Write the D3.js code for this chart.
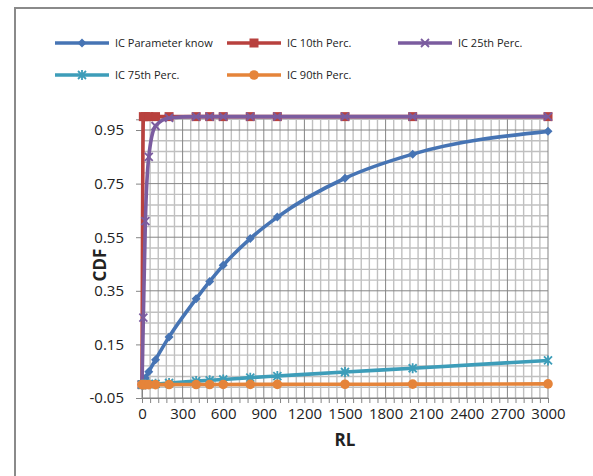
<!DOCTYPE html>
<html>
<head>
<meta charset="utf-8">
<script src="https://cdn.jsdelivr.net/npm/d3@7"></script>
<style>
  html, body { margin: 0; padding: 0; background: #fff; }
  svg { display: block; }
  text { font-family: "Open Sans", sans-serif; }
</style>
</head>
<body>
<div id="chart"></div>
<script>
// ---- data ----
const rl = [0, 10, 25, 50, 100, 200, 400, 500, 600, 800, 1000, 1500, 2000, 3000];
const icParamKnow = [0, 0.01, 0.025, 0.048, 0.093, 0.178, 0.32, 0.385, 0.445, 0.545, 0.625, 0.77, 0.86, 0.945];
const ic10th = [0, 1, 1, 1, 1, 1, 1, 1, 1, 1, 1, 1, 1, 1];
const ic25th = [0, 0.25, 0.61, 0.85, 0.965, 0.995, 1, 1, 1, 1, 1, 1, 1, 1];
const ic75th = [0, 0.0003, 0.001, 0.002, 0.003, 0.006, 0.013, 0.016, 0.019, 0.026, 0.032, 0.047, 0.061, 0.09];
const ic90th = [0, 0, 0, 0, 0, 0.0001, 0.0003, 0.0004, 0.0005, 0.0007, 0.0009, 0.0013, 0.0018, 0.0027];
const seriesNames = ["IC Parameter know", "IC 10th Perc.", "IC 25th Perc.", "IC 75th Perc.", "IC 90th Perc."];
const xTickLabels = [0, 300, 600, 900, 1200, 1500, 1800, 2100, 2400, 2700, 3000];
const yTickLabels = [-0.05, 0.15, 0.35, 0.55, 0.75, 0.95];
const xTitle = "RL", yTitle = "CDF";

// ---- styling ----
const colors = ["#4674b4", "#b8413e", "#7b5c9f", "#3d9db9", "#e5843a"];
const markers = ["diamond", "square", "x", "asterisk", "circle"];
const series = [icParamKnow, ic10th, ic25th, ic75th, ic90th].map((v, i) => ({
  name: seriesNames[i], color: colors[i], marker: markers[i],
  pts: rl.map((x, j) => ({ x, y: v[j] }))
}));

const W = 593, H = 476;
const svg = d3.select("#chart").append("svg").attr("width", W).attr("height", H);
svg.append("rect").attr("width", W).attr("height", H).attr("fill", "#fff");
svg.append("rect").attr("x", 15).attr("y", 8).attr("width", 620).attr("height", 520)
  .attr("fill", "none").attr("stroke", "#8a8a8a").attr("stroke-width", 2);

const x = d3.scaleLinear().domain([0, 3000]).range([142, 548]);
const y = d3.scaleLinear().domain([-0.05, 0.99]).range([398, 119.3]);

// grid
const g = svg.append("g");
const minorX = d3.range(0, 3001, 60).filter(v => v % 300 !== 0);
const minorY = d3.range(0, 27).map(i => -0.05 + i * 0.04).filter((v, i) => i % 5 !== 0);
g.selectAll(".mx").data(minorX).join("line")
  .attr("x1", d => x(d)).attr("x2", d => x(d)).attr("y1", y(0.99)).attr("y2", y(-0.05))
  .attr("stroke", "#c0c0c0").attr("stroke-width", 1.4);
g.selectAll(".my").data(minorY).join("line")
  .attr("x1", x(0)).attr("x2", x(3000)).attr("y1", d => y(d)).attr("y2", d => y(d))
  .attr("stroke", "#c0c0c0").attr("stroke-width", 1.4);
g.selectAll(".Mx").data(xTickLabels).join("line")
  .attr("x1", d => x(d)).attr("x2", d => x(d)).attr("y1", y(0.99)).attr("y2", y(-0.05))
  .attr("stroke", "#858585").attr("stroke-width", 1);
g.selectAll(".My").data(yTickLabels).join("line")
  .attr("x1", x(0)).attr("x2", x(3000)).attr("y1", d => y(d)).attr("y2", d => y(d))
  .attr("stroke", "#858585").attr("stroke-width", 1);

// axes
const xAxis = d3.axisBottom(x).tickValues(d3.range(0, 3001, 60)).tickSize(5).tickFormat("");
const xa = svg.append("g").attr("transform", `translate(0,${y(-0.05)})`).call(xAxis);
xa.select(".domain").attr("stroke", "#858585");
xa.selectAll(".tick line").attr("stroke", "#858585");
const xLab = d3.axisBottom(x).tickValues(xTickLabels).tickSize(0).tickPadding(10).tickFormat(d => d);
const xl = svg.append("g").attr("transform", `translate(0,${y(-0.05)})`).call(xLab);
xl.select(".domain").remove();
xl.selectAll("text").attr("font-family", "Open Sans").attr("font-size", 15).attr("fill", "#222");

const yAxis = d3.axisLeft(y).tickValues(yTickLabels).tickSize(6).tickPadding(12).tickFormat(d => d.toFixed(2));
const ya = svg.append("g").attr("transform", `translate(${x(0)},0)`).call(yAxis);
ya.select(".domain").attr("stroke", "#858585");
ya.selectAll(".tick line").attr("stroke", "#858585");
ya.selectAll("text").attr("font-family", "Open Sans").attr("font-size", 15).attr("fill", "#222");

svg.append("text").attr("x", 345).attr("y", 446).attr("text-anchor", "middle")
  .attr("font-size", 17).attr("font-weight", "bold").attr("fill", "#222").text(xTitle);
svg.append("text").attr("transform", "translate(106,265) rotate(-90)").attr("text-anchor", "middle")
  .attr("font-size", 17).attr("font-weight", "bold").attr("fill", "#222").text(yTitle);

// markers
function drawMarker(sel, type, color, cx, cy) {
  if (type === "diamond") {
    sel.append("path").attr("d", `M${cx},${cy-4.5}L${cx+4.5},${cy}L${cx},${cy+4.5}L${cx-4.5},${cy}Z`).attr("fill", color);
  } else if (type === "square") {
    sel.append("rect").attr("x", cx-4.5).attr("y", cy-4.5).attr("width", 9).attr("height", 9).attr("fill", color);
  } else if (type === "x") {
    sel.append("path").attr("d", `M${cx-4},${cy-4}L${cx+4},${cy+4}M${cx-4},${cy+4}L${cx+4},${cy-4}`)
      .attr("stroke", color).attr("stroke-width", 1.8).attr("fill", "none");
  } else if (type === "asterisk") {
    sel.append("path").attr("d", `M${cx-4},${cy-4}L${cx+4},${cy+4}M${cx-4},${cy+4}L${cx+4},${cy-4}M${cx},${cy-5}L${cx},${cy+5}`)
      .attr("stroke", color).attr("stroke-width", 1.8).attr("fill", "none");
  } else {
    sel.append("circle").attr("cx", cx).attr("cy", cy).attr("r", 4.8).attr("fill", color);
  }
}

const line = d3.line().x(d => x(d.x)).y(d => y(d.y)).curve(d3.curveMonotoneX);
series.forEach(s => {
  const sg = svg.append("g");
  sg.append("path").datum(s.pts).attr("d", line).attr("fill", "none")
    .attr("stroke", s.color).attr("stroke-width", 3.6).attr("stroke-linejoin", "round");
  s.pts.forEach(p => drawMarker(sg, s.marker, s.color, x(p.x), y(p.y)));
});

// legend
const legendPos = [[55, 43], [227, 43], [398, 43], [55, 75], [227, 75]];
series.forEach((s, i) => {
  const [lx, ly] = legendPos[i];
  const lg = svg.append("g");
  lg.append("line").attr("x1", lx).attr("x2", lx + 54).attr("y1", ly).attr("y2", ly)
    .attr("stroke", s.color).attr("stroke-width", 3.6);
  drawMarker(lg, s.marker, s.color, lx + 27, ly);
  lg.append("text").attr("x", lx + 60).attr("y", ly + 4).attr("font-size", 11).attr("fill", "#222").text(s.name);
});
</script>
</body>
</html>
